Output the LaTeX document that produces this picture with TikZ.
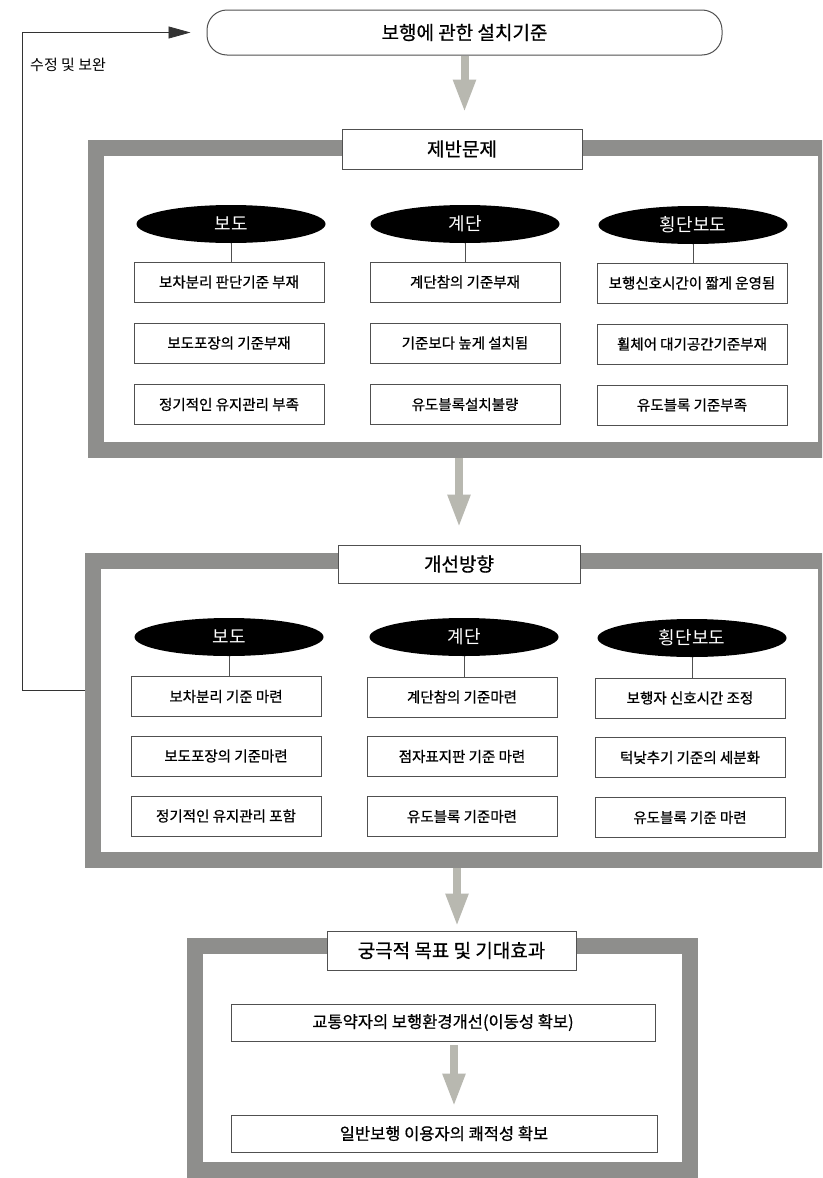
\documentclass[tikz,border=0pt]{standalone}
\usepackage{fontspec}
\newfontfamily\kr{Noto Sans CJK KR}
\newfontfamily\krb{Noto Sans CJK KR}[FakeBold=0.7]
\usetikzlibrary{shapes.geometric,arrows.meta,calc}
\definecolor{framegray}{HTML}{8E8E8C}
\definecolor{arrowgray}{HTML}{B8B8B0}
\definecolor{boxline}{HTML}{505050}
\begin{document}
\begin{tikzpicture}[x=1pt,y=-1pt,
 framebox/.style={draw=framegray, line width=16pt, fill=white, inner sep=0pt, rectangle},
 titlebox/.style={draw=boxline, line width=1pt, fill=white, inner sep=0pt, minimum height=40pt, font=\krb\fontsize{19}{22}\selectfont},
 topbox/.style={draw=boxline, line width=1pt, fill=white, rounded corners=20pt, inner sep=0pt, minimum width=515pt, minimum height=45pt, font=\krb\fontsize{19}{22}\selectfont},
 catell/.style={ellipse, fill=black, text=white, minimum width=189pt, minimum height=38pt, inner sep=0pt, font=\kr\fontsize{18}{20}\selectfont},
 itembox/.style={draw=boxline, line width=0.9pt, fill=white, minimum width=190pt, minimum height=40pt, inner sep=0pt, font=\krb\fontsize{14.5}{17}\selectfont},
 goalbox/.style={draw=boxline, line width=0.9pt, fill=white, minimum width=425pt, minimum height=37pt, inner sep=0pt, font=\krb\fontsize{16.5}{19}\selectfont},
 link/.style={draw=boxline, line width=0.8pt},
 bigarrow/.style={draw=arrowgray, line width=8pt, -{Triangle[width=21pt,length=33pt]}},
 feedback/.style={draw=black!80, line width=0.8pt, -{Triangle[width=12pt,length=22pt]}},
 fblabel/.style={font=\kr\fontsize{15}{18}\selectfont, inner sep=0pt, anchor=west}
]
\useasboundingbox (0,0) rectangle (822,1178);
\clip (0,0) rectangle (822,1178);
\fill[white] (0,0) rectangle (822,1178);

% top box
\node[topbox] (top) at (464.5,32.5) {보행에 관한 설치기준};

% frame 1
\node[framebox, minimum width=730pt, minimum height=302pt] (f1) at (461,299) {};
\node[titlebox, minimum width=240pt] (t1) at (462,149) {제반문제};

\node[catell] (a1) at (231,224) {보도};
\node[catell] (a2) at (465,224) {계단};
\node[catell] (a3) at (693,225) {횡단보도};

\node[itembox] (a11) at (229,282) {보차분리 판단기준 부재};
\node[itembox] (a12) at (229,343) {보도포장의 기준부재};
\node[itembox] (a13) at (229,404.5) {정기적인 유지관리 부족};
\node[itembox] (a21) at (465,282) {계단참의 기준부재};
\node[itembox] (a22) at (465,343) {기준보다 높게 설치됨};
\node[itembox] (a23) at (465,404.5) {유도블록설치불량};
\node[itembox] (a31) at (692,283) {보행신호시간이 짧게 운영됨};
\node[itembox] (a32) at (692,344) {휠체어 대기공간기준부재};
\node[itembox] (a33) at (692,405) {유도블록 기준부족};

\draw[link] (a1.south) -- (a1.south |- a11.north);
\draw[link] (a2.south) -- (a2.south |- a21.north);
\draw[link] (a3.south) -- (a3.south |- a31.north);

% frame 2
\node[framebox, minimum width=733pt, minimum height=299pt] (f2) at (459.5,710.5) {};
\node[titlebox, minimum width=242pt, minimum height=38pt] (t2) at (459,564) {개선방향};

\node[catell] (b1) at (229,637) {보도};
\node[catell] (b2) at (464,637) {계단};
\node[catell] (b3) at (692,638) {횡단보도};

\node[itembox] (b11) at (226,696.5) {보차분리 기준 마련};
\node[itembox] (b12) at (226,756) {보도포장의 기준마련};
\node[itembox] (b13) at (226,816) {정기적인 유지관리 포함};
\node[itembox] (b21) at (462,697) {계단참의 기준마련};
\node[itembox] (b22) at (462,756.5) {점자표지판 기준 마련};
\node[itembox] (b23) at (462,816.5) {유도블록 기준마련};
\node[itembox] (b31) at (690,698) {보행자 신호시간 조정};
\node[itembox] (b32) at (690,757.5) {턱낮추기 기준의 세분화};
\node[itembox] (b33) at (690,817.5) {유도블록 기준 마련};

\draw[link] (b1.south) -- (b1.south |- b11.north);
\draw[link] (b2.south) -- (b2.south |- b21.north);
\draw[link] (b3.south) -- (b3.south |- b31.north);

% frame 3
\node[framebox, minimum width=495pt, minimum height=224pt] (f3) at (442.5,1058) {};
\node[titlebox, minimum width=249pt, minimum height=39pt] (t3) at (451.5,950.5) {궁극적 목표 및 기대효과};
\node[goalbox, minimum width=424pt] (g1) at (443,1022.5) {교통약자의 보행환경개선(이동성 확보)};
\node[goalbox, minimum width=426pt] (g2) at (444,1133.5) {일반보행 이용자의 쾌적성 확보};

% big arrows
\draw[bigarrow] (top.south) -- ([yshift=16pt]top.south |- t1.north);
\draw[bigarrow] (f1.south -| t2.north) -- ([yshift=17pt]t2.north);
\draw[bigarrow] ([xshift=5.5pt]f2.south -| t3.north) -- ([xshift=5.5pt,yshift=4pt]t3.north);
\draw[bigarrow] ([xshift=11pt,yshift=-4pt]g1.south) -- ([xshift=10pt,yshift=8pt]g2.north);

% feedback loop
\coordinate (fbs) at (85,690);
\coordinate (fbc) at (22,690);
\draw[feedback] (fbs) -- (fbc) |- ([xshift=-16pt]top.west);
\node[fblabel] (fbl) at (30,65) {수정 및 보완};
\end{tikzpicture}
\end{document}
